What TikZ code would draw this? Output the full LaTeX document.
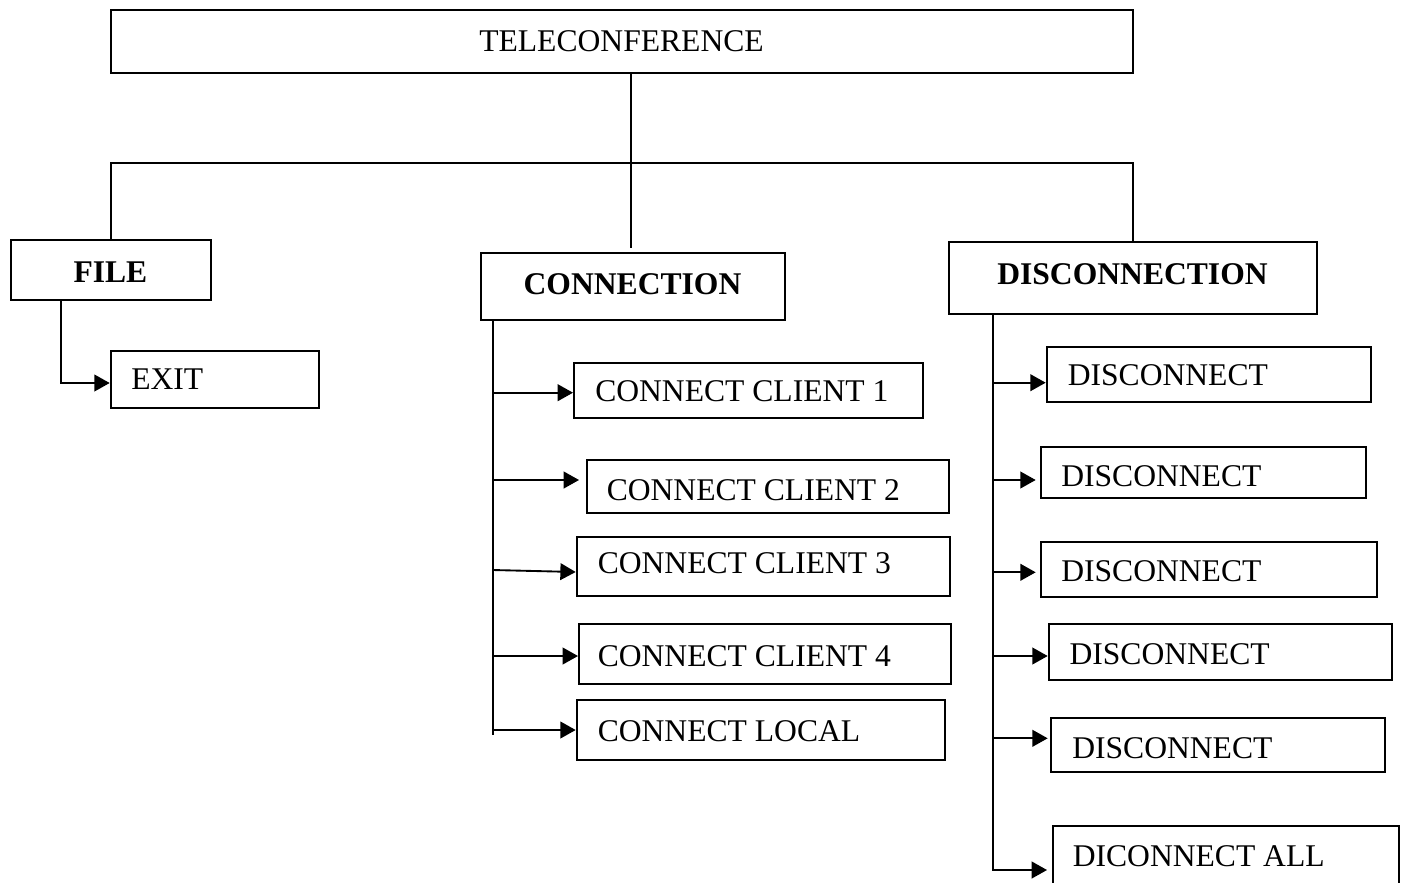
\documentclass[tikz,border=0pt]{standalone}
\usepackage{fontspec}
\setmainfont{Liberation Serif}
\usetikzlibrary{fit,arrows.meta}
\tikzset{
  box/.style={draw, line width=1.5pt, inner sep=0pt},
  lbl/.style={inner sep=0pt, anchor=base west, font=\fontsize{23.7}{28}\selectfont},
  clbl/.style={inner sep=0pt, anchor=base, font=\fontsize{23.7}{28}\selectfont},
  bl/.style={clbl, font=\fontsize{23.7}{28}\selectfont\bfseries},
  conn/.style={line width=1.4pt},
  arr/.style={line width=1.4pt, -{Triangle[length=11.5pt,width=12.5pt]}}
}
\begin{document}
\begin{tikzpicture}[x=0.75pt,y=-0.75pt]
\useasboundingbox (0,0) rectangle (1406,882);
% boxes
\node[box, fit={(110.7,10) (1133,73.3)}] (tele) {};
\node[box, fit={(10.7,240) (211,300)}] (file) {};
\node[box, fit={(110.7,350.7) (319,408)}] (exit) {};
\node[box, fit={(481,252.7) (785,320)}] (conn) {};
\node[box, fit={(574,362.7) (923,418)}] (cc1) {};
\node[box, fit={(586.7,460) (949,512.7)}] (cc2) {};
\node[box, fit={(576.7,536.7) (950,596)}] (cc3) {};
\node[box, fit={(579,624) (950.7,684)}] (cc4) {};
\node[box, fit={(576.7,700) (945,760)}] (cl) {};
\node[box, fit={(949,242) (1317,314)}] (disc) {};
\node[box, fit={(1046.7,346.7) (1371,402.3)}] (d1) {};
\node[box, fit={(1040.7,446.7) (1365.7,498.3)}] (d2) {};
\node[box, fit={(1040.7,542.3) (1377,596.7)}] (d3) {};
\node[box, fit={(1048.7,624.3) (1391.7,680)}] (d4) {};
\node[box, fit={(1050.7,718.3) (1385,772.3)}] (d5) {};
\node[box, fit={(1052.7,826) (1399,900)}] (da) {};
% texts
\node[clbl] (teleT) at (621.5,51.7) {TELECONFERENCE};
\node[bl] (fileT) at (110.4,282.3) {FILE};
\node[bl] (connT) at (632.5,294) {CONNECTION};
\node[bl] (discT) at (1132.5,284) {DISCONNECTION};
\node[lbl] (exitT) at (131,389.3) {EXIT};
\node[lbl] (cc1T) at (595,401.7) {CONNECT CLIENT 1};
\node[lbl] (cc2T) at (606.5,500) {CONNECT CLIENT 2};
\node[lbl] (cc3T) at (597.5,573.3) {CONNECT CLIENT 3};
\node[lbl] (cc4T) at (597.5,666.7) {CONNECT CLIENT 4};
\node[lbl] (clT) at (597.5,741.7) {CONNECT LOCAL};
\node[lbl] (d1T) at (1067.5,385.7) {DISCONNECT};
\node[lbl] (d2T) at (1061,486) {DISCONNECT};
\node[lbl] (d3T) at (1061,581.7) {DISCONNECT};
\node[lbl] (d4T) at (1069.3,664) {DISCONNECT};
\node[lbl] (d5T) at (1072,758) {DISCONNECT};
\node[lbl] (daT) at (1072.5,866) {DICONNECT ALL};
% top tree
\coordinate (hubL) at (110.85,163.3);
\coordinate (hubR) at (1133,163.3);
\coordinate (cend) at (631,248.3);
\draw[conn] (tele.south -| cend) -- (cend);
\draw[conn] (file.north) -- (hubL) -- (hubR) -- (disc.north);
% file branch
\coordinate (fk) at (61,383);
\draw[arr] (file.south -| fk) -- (fk) -- (exit.west |- fk);
% connection branch
\coordinate (ct) at (492.7,735);
\draw[conn] (conn.south -| ct) -- (ct);
\coordinate (a1) at (492.7,392.7);
\coordinate (a2) at (492.7,480);
\coordinate (a3) at (492.7,570);
\coordinate (a3e) at (492.7,572);
\coordinate (a4) at (492.7,656);
\coordinate (a5) at (492.7,730);
\draw[arr] (a1) -- (cc1.west |- a1);
\draw[arr, shorten >=5pt] (a2) -- (cc2.west |- a2);
\draw[arr] (a3) -- (cc3.west |- a3e);
\draw[arr] (a4) -- (cc4.west |- a4);
\draw[arr] (a5) -- (cl.west |- a5);
% disconnection branch
\coordinate (dk) at (992.7,870);
\coordinate (b1) at (992.7,382.7);
\coordinate (b2) at (992.7,480);
\coordinate (b3) at (992.7,572.3);
\coordinate (b4) at (992.7,656);
\coordinate (b5) at (992.7,738.3);
\draw[arr, shorten >=3.5pt] (disc.south -| dk) -- (dk) -- (da.west |- dk);
\draw[arr] (b1) -- (d1.west |- b1);
\draw[arr, shorten >=3pt] (b2) -- (d2.west |- b2);
\draw[arr, shorten >=3pt] (b3) -- (d3.west |- b3);
\draw[arr] (b4) -- (d4.west |- b4);
\draw[arr, shorten >=1.5pt] (b5) -- (d5.west |- b5);
\end{tikzpicture}
\end{document}
